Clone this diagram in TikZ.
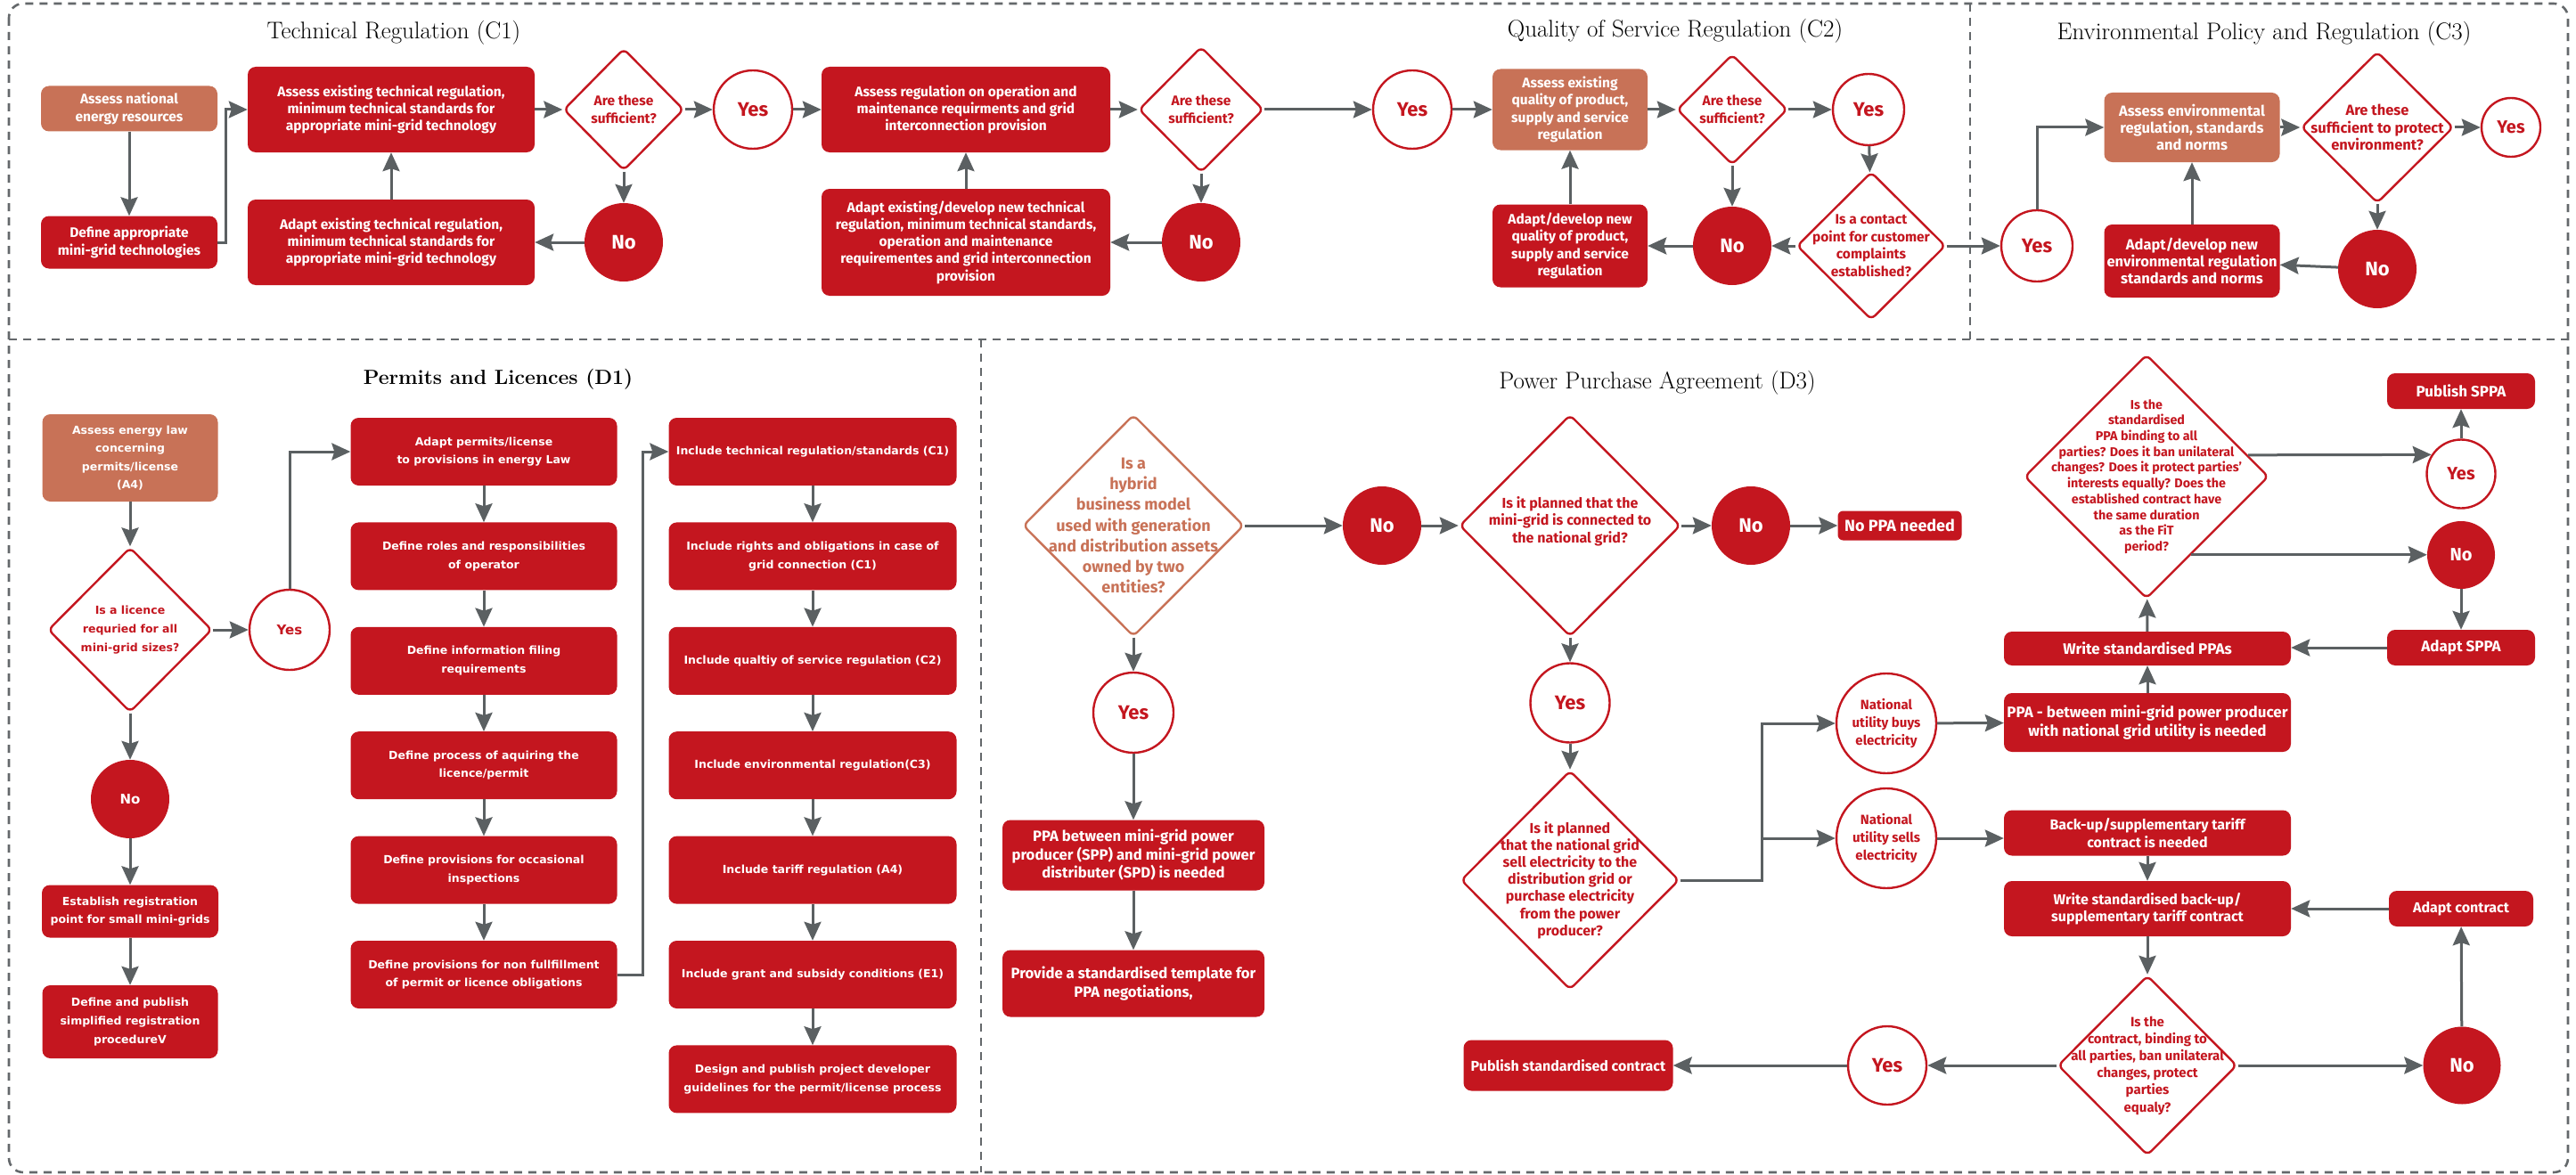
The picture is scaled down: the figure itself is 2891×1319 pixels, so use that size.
\documentclass[tikz,border=0pt]{standalone}
\usepackage{fontspec}
\usetikzlibrary{shapes.geometric, arrows.meta, calc}
\newfontfamily\cf{Fira Sans}
\newfontfamily\wf{DejaVu Sans}
\definecolor{ppred}{RGB}{196,22,31}
\definecolor{pporange}{RGB}{200,114,87}
\definecolor{ppgray}{RGB}{91,96,98}
\definecolor{framegray}{RGB}{100,104,107}
\begin{document}
\begin{tikzpicture}[x=1pt, y=-1pt,
  fc/.style 2 args={font=\cf\bfseries\fontsize{#1}{#2}\selectfont},
  fw/.style 2 args={font=\wf\bfseries\fontsize{#1}{#2}\selectfont},
  wh/.style 2 args={minimum width=#1pt, minimum height=#2pt},
  box/.style={rectangle, rounded corners=9pt, fill=ppred, text=white, align=center, inner sep=2pt},
  obox/.style={box, fill=pporange},
  dia/.style={diamond, draw=ppred, line width=2.4pt, fill=white, rounded corners=6pt, inner sep=0pt},
  odia/.style={dia, draw=pporange},
  qt/.style={text=ppred, align=center, inner sep=0pt},
  yes/.style={circle, draw=ppred, line width=2.4pt, fill=white, text=ppred, align=center, inner sep=0pt, minimum size=#1pt},
  no/.style={circle, fill=ppred, text=white, align=center, inner sep=0pt, minimum size=#1pt},
  arr/.style={draw=ppgray, line width=3pt, -{Stealth[length=21pt,width=19pt,inset=3pt]}},
  frame/.style={draw=framegray, line width=2.6pt, dash pattern=on 9pt off 7pt},
  title/.style={text=black, inner sep=0pt, font=\fontsize{27}{30}\selectfont}
]
\useasboundingbox[fill=white] (0,0) rectangle (2891,1319);

% section frames
\draw[frame, rounded corners=16pt] (10,4) rectangle (2882,1316);
\draw[frame] (10,381) -- (2882,381);
\draw[frame] (2211,4) -- (2211,381);
\draw[frame] (1101,381) -- (1101,1316);

% section titles
\node[title] (t1) at (442,37) {Technical Regulation (C\oldstylenums{1})};
\node[title] (t2) at (1880,35) {Quality of Service Regulation (C\oldstylenums{2})};
\node[title] (t3) at (2541,38) {Environmental Policy and Regulation (C\oldstylenums{3})};
\node[title, font=\bfseries\fontsize{23}{26}\selectfont] (t4) at (559,426) {Permits and Licences (D\oldstylenums{1})};
\node[title] (t5) at (1860,430) {Power Purchase Agreement (D\oldstylenums{3})};

% ---------- Technical Regulation (C1)
\node[obox, fc={15.5}{19.3}, wh={198}{51}] (c1a) at (145,122) {Assess national\\energy resources};
\node[box, fc={15.5}{19.3}, wh={198}{59}] (c1b) at (145,272) {Define appropriate\\mini-grid technologies};
\node[box, fc={15.5}{19.3}, wh={322}{96}] (c1c) at (439,123) {Assess existing technical regulation,\\minimum technical standards for\\appropriate mini-grid technology};
\node[box, fc={15.5}{19.3}, wh={322}{96}] (c1d) at (439,272) {Adapt existing technical regulation,\\minimum technical standards for\\appropriate mini-grid technology};
\node[dia, wh={135}{137}] (c1q) at (700,123) {};
\node[qt, fc={15.5}{19.5}] (c1qt) at (700,123) {Are these\\sufficient?};
\node[yes=88, fc={22}{24}] (c1y) at (845,123) {Yes};
\node[no=88, fc={22}{24}] (c1n) at (700,272) {No};
\node[box, fc={15.5}{19.3}, wh={324}{96}] (c1e) at (1084,123) {Assess regulation on operation and\\maintenance requirments and grid\\interconnection provision};
\node[box, fc={15.5}{19.3}, wh={324}{120}] (c1f) at (1084,272) {Adapt existing/develop new technical\\regulation, minimum technical standards,\\operation and maintenance\\requirementes and grid interconnection\\provision};
\node[dia, wh={140}{141}] (c1q2) at (1348,123) {};
\node[qt, fc={15.5}{19.5}] (c1q2t) at (1348,123) {Are these\\sufficient?};
\node[no=88, fc={22}{24}] (c1n2) at (1348,272) {No};
\node[yes=88, fc={22}{24}] (c1y2) at (1585,123) {Yes};

\draw[arr] (c1a) -- (c1b);
\draw[arr] (c1b.east) -- ++(9,0) |- (c1c.west);
\draw[arr] (c1c) -- (c1q);
\draw[arr] (c1q) -- (c1y);
\draw[arr] (c1q) -- (c1n);
\draw[arr] (c1n) -- (c1d);
\draw[arr] (c1d) -- (c1c);
\draw[arr] (c1y) -- (c1e);
\draw[arr] (c1e) -- (c1q2);
\draw[arr] (c1q2) -- (c1y2);
\draw[arr] (c1q2) -- (c1n2);
\draw[arr] (c1n2) -- (c1f);
\draw[arr] (c1f) -- (c1e);

% ---------- Quality of Service Regulation (C2)
\node[obox, fc={15.5}{19.5}, wh={174}{91}] (c2a) at (1762,123) {Assess existing\\quality of product,\\supply and service\\regulation};
\node[box, fc={15.5}{19.5}, wh={174}{93}] (c2b) at (1762,276) {Adapt/develop new\\quality of product,\\supply and service\\regulation};
\node[dia, wh={124}{124}] (c2q) at (1944,123) {};
\node[qt, fc={15.5}{19.5}] (c2qt) at (1944,123) {Are these\\sufficient?};
\node[yes=80, fc={22}{24}] (c2y) at (2097,123) {Yes};
\node[no=88, fc={22}{24}] (c2n) at (1944,276) {No};
\node[dia, wh={167}{166}] (c2q2) at (2100,276) {};
\node[qt, fc={15.5}{19.5}] (c2q2t) at (2100,276) {Is a contact\\point for customer\\complaints\\established?};

\draw[arr] (c1y2) -- (c2a);
\draw[arr] (c2a) -- (c2q);
\draw[arr] (c2q) -- (c2y);
\draw[arr] (c2y) -- (c2q2);
\draw[arr] (c2q) -- (c2n);
\draw[arr] (c2q2) -- (c2n);
\draw[arr] (c2n) -- (c2b);
\draw[arr] (c2b) -- (c2a);

% ---------- Environmental Policy and Regulation (C3)
\node[yes=80, fc={22}{24}] (c3y) at (2286,276) {Yes};
\node[obox, fc={16.5}{19.3}, wh={197}{78}] (c3a) at (2460,143) {Assess environmental\\regulation, standards\\and norms};
\node[box, fc={16.5}{19.3}, wh={197}{82}] (c3b) at (2460,293) {Adapt/develop new\\environmental regulation\\standards and norms};
\node[dia, wh={171}{170}] (c3q) at (2668,143) {};
\node[qt, fc={16.5}{19.3}] (c3qt) at (2668,143) {Are these\\sufficient to protect\\environment?};
\node[yes=66, fc={20}{22}] (c3y2) at (2818,143) {Yes};
\node[no=88, fc={22}{24}] (c3n) at (2668,302) {No};

\draw[arr] (c2q2) -- (c3y);
\draw[arr] (c3y.north) |- (c3a.west);
\draw[arr] (c3a) -- (c3q);
\draw[arr] (c3q) -- (c3y2);
\draw[arr] (c3q) -- (c3n);
\draw[arr] (c3n) -- (c3b);
\draw[arr] (c3b) -- (c3a);

% ---------- Permits and Licences (D1)
\node[obox, fw={12.5}{20.6}, wh={197}{98}] (d1a) at (146,514) {Assess energy law\\concerning\\permits/license\\(A4)};
\node[dia, wh={184}{185}] (d1q) at (146,707) {};
\node[qt, fw={12.5}{20.6}] (d1qt) at (146,707) {Is a licence\\requried for all\\mini-grid sizes?};
\node[yes=90, fw={15}{18}] (d1y) at (325,707) {Yes};
\node[no=88, fw={15}{18}] (d1n) at (146,897) {No};
\node[box, fw={12.5}{20.6}, wh={198}{59}] (d1b) at (146,1023) {Establish registration\\point for small mini-grids};
\node[box, fw={12.5}{20.6}, wh={197}{82}] (d1c) at (146,1147) {Define and publish\\simplified registration\\procedureV};

\begin{scope}[every node/.style={box, fw={12.5}{20.6}, wh={299}{76}}]
\node (p1) at (543,507) {Adapt permits/license\\to provisions in energy Law};
\node (p2) at (543,624.4) {Define roles and responsibilities\\of operator};
\node (p3) at (543,741.8) {Define information filing\\requirements};
\node (p4) at (543,859.2) {Define process of aquiring the\\licence/permit};
\node (p5) at (543,976.6) {Define provisions for occasional\\inspections};
\node (p6) at (543,1094) {Define provisions for non fullfillment\\of permit or licence obligations};
\end{scope}
\begin{scope}[every node/.style={box, fw={12.5}{20.6}, wh={323}{76}}]
\node (q1) at (912,507) {Include technical regulation/standards (C1)};
\node (q2) at (912,624.4) {Include rights and obligations in case of\\grid connection (C1)};
\node (q3) at (912,741.8) {Include qualtiy of service regulation (C2)};
\node (q4) at (912,859.2) {Include environmental regulation(C3)};
\node (q5) at (912,976.6) {Include tariff regulation (A4)};
\node (q6) at (912,1094) {Include grant and subsidy conditions (E1)};
\node (q7) at (912,1211.4) {Design and publish project developer\\guidelines for the permit/license process};
\end{scope}

\draw[arr] (d1a) -- (d1q);
\draw[arr] (d1q) -- (d1y);
\draw[arr] (d1y.north) |- (p1.west);
\draw[arr] (d1q) -- (d1n);
\draw[arr] (d1n) -- (d1b);
\draw[arr] (d1b) -- (d1c);
\foreach \a/\b in {p1/p2,p2/p3,p3/p4,p4/p5,p5/p6,q1/q2,q2/q3,q3/q4,q4/q5,q5/q6,q6/q7}
  \draw[arr] (\a) -- (\b);
\draw[arr] (p6.east) -- ++(29,0) |- (q1.west);

% ---------- Power Purchase Agreement (D3)
\node[odia, wh={248}{249}] (h) at (1272,590) {};
\node[qt, text=pporange, fc={18}{23.3}] (ht) at (1272,590) {Is a\\hybrid\\business model\\used with generation\\and distribution assets\\owned by two\\entities?};
\node[no=88, fc={22}{24}] (hn) at (1551,590) {No};
\node[yes=90, fc={22}{24}] (hy) at (1272,800) {Yes};
\node[box, fc={16.7}{20.5}, wh={294}{79}] (hp) at (1272,960) {PPA between mini-grid power\\producer (SPP) and mini-grid power\\distributer (SPD) is needed};
\node[box, fc={16.7}{20.5}, wh={294}{75}] (htp) at (1272,1104) {Provide a standardised template for\\PPA negotiations,};

\node[dia, wh={248}{249}] (g) at (1762,590) {};
\node[qt, fc={16}{19.3}] (gt) at (1762,585) {Is it planned that the\\mini-grid is connected to\\the national grid?};
\node[no=88, fc={22}{24}] (gn) at (1965,590) {No};
\node[box, fc={18}{20}, wh={139}{33}, rounded corners=6pt] (gnp) at (2132,590) {No PPA needed};
\node[yes=89, fc={22}{24}] (gy) at (1762,789) {Yes};
\node[dia, wh={245}{246}] (s) at (1762,988) {};
\node[qt, fc={16}{19.2}] (st) at (1762,988) {Is it planned\\that the national grid\\sell electricity to the\\distribution grid or\\purchase electricity\\from the power\\producer?};
\node[yes=112, fc={15}{20}] (ub) at (2117,812) {National\\utility buys\\electricity};
\node[yes=112, fc={15}{20}] (us) at (2117,941) {National\\utility sells\\electricity};

\node[box, fc={17}{20.3}, wh={322}{66}] (pb) at (2410,811) {PPA - between mini-grid power producer\\with national grid utility is needed};
\node[box, fc={17}{20}, wh={322}{38}] (wp) at (2410,728) {Write standardised PPAs};
\node[dia, wh={274}{274}] (bq) at (2409,535) {};
\node[qt, fc={14.3}{17.7}] (bqt) at (2409,535) {Is the\\standardised\\PPA binding to all\\parties? Does it ban unilateral\\changes? Does it protect parties’\\interests equally? Does the\\established contract have\\the same duration\\as the FiT\\period?};
\node[box, fc={17}{20}, wh={166}{40}] (ps) at (2762,439) {Publish SPPA};
\node[yes=77, fc={20}{22}] (by) at (2762,532) {Yes};
\node[no=76, fc={20}{22}] (bn) at (2762,623) {No};
\node[box, fc={17}{20}, wh={166}{40}] (as) at (2762,727) {Adapt SPPA};

\node[box, fc={16}{19.5}, wh={322}{51}] (bu) at (2410,935) {Back-up/supplementary tariff\\contract is needed};
\node[box, fc={16}{19.5}, wh={322}{62}] (wb) at (2410,1020) {Write standardised back-up/\\supplementary tariff contract};
\node[box, fc={16}{19.5}, wh={162}{40}] (ac) at (2762,1020) {Adapt contract};
\node[dia, wh={201}{202}] (cq) at (2410,1196) {};
\node[qt, fc={15}{19.2}] (cqt) at (2410,1196) {Is the\\contract, binding to\\all parties, ban unilateral\\changes, protect\\parties\\equaly?};
\node[no=87, fc={22}{24}] (cn) at (2763,1196) {No};
\node[yes=88, fc={22}{24}] (cy) at (2118,1196) {Yes};
\node[box, fc={16}{19.5}, wh={235}{57}] (pc) at (1760,1196) {Publish standardised contract};

\draw[arr] (h) -- (hn);
\draw[arr] (hn) -- (g);
\draw[arr] (h) -- (hy);
\draw[arr] (hy) -- (hp);
\draw[arr] (hp) -- (htp);
\draw[arr] (g) -- (gn);
\draw[arr] (gn) -- (gnp);
\draw[arr] (g) -- (gy);
\draw[arr] (gy) -- (s);
\draw[arr] (s.east) -- ++(92,0) coordinate (sj) |- (ub.west);
\draw[arr] (sj |- us.west) -- (us.west);
\draw[arr] (ub) -- (pb);
\draw[arr] (us.east) -- (us.east -| bu.west);
\draw[arr] (pb) -- (wp);
\draw[arr] (wp) -- (bq);
\path (bq.east) -- (bq.north) coordinate[pos=0.175] (bqa);
\path (bq.east) -- (bq.south) coordinate[pos=0.635] (bqb);
\draw[arr] (bqa) -- (by.147);
\draw[arr] (bqb) -- (bqb -| bn.west);
\draw[arr] (by) -- (ps);
\draw[arr] (bn) -- (as);
\draw[arr] (as.west) -- (as.west -| wp.east);
\draw[arr] (bu) -- (wb);
\draw[arr] (wb) -- (cq);
\draw[arr] (cq) -- (cn);
\draw[arr] (cq) -- (cy);
\draw[arr] (cy) -- (pc);
\draw[arr] (cn) -- (ac);
\draw[arr] (ac) -- (wb);
\end{tikzpicture}
\end{document}
